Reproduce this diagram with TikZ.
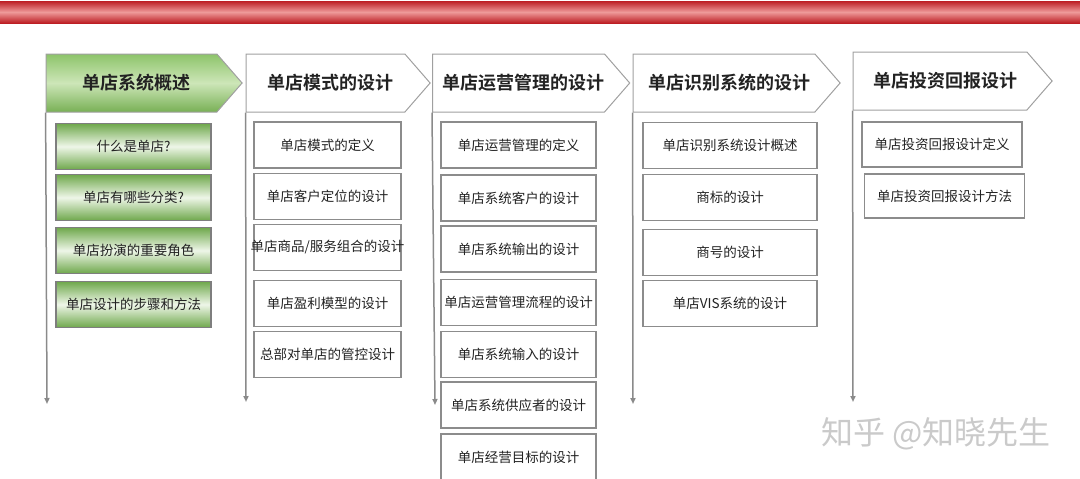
\documentclass[tikz,border=0pt]{standalone}
\usepackage{fontspec}
\setmainfont{Noto Sans CJK SC}[BoldFont={Noto Sans CJK SC Bold}]
\usetikzlibrary{shapes.symbols,arrows.meta}
\definecolor{bardark}{HTML}{BD1E24}
\definecolor{barlight}{HTML}{EE9A9A}
\definecolor{headline}{HTML}{A0A0A0}
\definecolor{boxline}{HTML}{8C8C8C}
\definecolor{linegray}{HTML}{8A8A8A}
\definecolor{textgray}{HTML}{222222}
\definecolor{greentop}{HTML}{8DC46A}
\definecolor{greenmid}{HTML}{CDE6B8}
\definecolor{greenbot}{HTML}{78B055}
\definecolor{subedge}{HTML}{6FA84C}
\definecolor{submid}{HTML}{EEF6E8}
\definecolor{wmgray}{HTML}{CACACA}

\begin{document}
\begin{tikzpicture}[x=1pt, y=1pt]
    \tikzstyle{head} = [signal, signal to=east, signal pointer angle=98, draw=headline, line width=1pt, minimum height=58pt, inner sep=0pt, text=textgray, font=\bfseries\fontsize{18}{20}\selectfont, execute at begin node=\hspace*{10pt}]
    \tikzstyle{sub} = [rectangle, draw=boxline, line width=1.3pt, minimum height=46pt, inner sep=0pt, text=textgray, font=\fontsize{13.5}{15}\selectfont]
    \tikzstyle{greensub} = [sub, top color=subedge, bottom color=subedge, middle color=submid, draw=boxline!90!black]
    \tikzstyle{flow} = [draw=linegray, line width=1.5pt, -{Triangle[length=6pt,width=5pt]}]

    \useasboundingbox (0,0) rectangle (1080,-479);
    \shade[top color=bardark, bottom color=bardark, middle color=barlight] (0,-1) rectangle (1080,-23);

    % headers
    \node [head, minimum width=196pt, top color=greentop, bottom color=greenbot, middle color=greenmid] (overview) at (131.5,-83) {单店系统概述};
    \node [head, minimum width=184pt] (mode) at (325.5,-83) {单店模式的设计};
    \node [head, minimum width=194pt] (operate) at (518.5,-83) {单店运营管理的设计};
    \node [head, minimum width=207pt] (identity) at (724,-83) {单店识别系统的设计};
    \node [head, minimum width=199pt] (invest) at (940,-81) {单店投资回报设计};

    % timelines
    \coordinate (end1) at (47,-404);
    \coordinate (end2) at (246,-402);
    \coordinate (end3) at (435,-405);
    \coordinate (end4) at (633,-404);
    \coordinate (end5) at (853,-402);
    \draw [flow] (overview.south west) -- (end1);
    \draw [flow] (mode.south west) -- (end2);
    \draw [flow] (operate.south west) -- (end3);
    \draw [flow] (identity.south west) -- (end4);
    \draw [flow] (invest.south west) -- (end5);

    % column 1
    \node [greensub, minimum width=155pt] (what) at (133.5,-146.5) {什么是单店?};
    \node [greensub, minimum width=155pt] (kinds) at (133.5,-197.5) {单店有哪些分类?};
    \node [greensub, minimum width=155pt] (role) at (133.5,-250.5) {单店扮演的重要角色};
    \node [greensub, minimum width=155pt] (steps) at (133.5,-304.5) {单店设计的步骤和方法};

    % column 2
    \node [sub, minimum width=147pt] (modedef) at (327.5,-145) {单店模式的定义};
    \node [sub, minimum width=147pt] (customer) at (327.5,-196.5) {单店客户定位的设计};
    \node [sub, minimum width=147pt, inner xsep=-5pt] (goods) at (327.5,-247.5) {单店商品/服务组合的设计};
    \node [sub, minimum width=147pt] (profit) at (327.5,-303.5) {单店盈利模型的设计};
    \node [sub, minimum width=147pt] (control) at (327.5,-354.5) {总部对单店的管控设计};

    % column 3
    \node [sub, minimum width=155pt] (opdef) at (518.5,-145) {单店运营管理的定义};
    \node [sub, minimum width=155pt] (syscust) at (518.5,-198) {单店系统客户的设计};
    \node [sub, minimum width=155pt] (output) at (518.5,-249) {单店系统输出的设计};
    \node [sub, minimum width=155pt] (process) at (518.5,-302.5) {单店运营管理流程的设计};
    \node [sub, minimum width=155pt] (input) at (518.5,-354.5) {单店系统输入的设计};
    \node [sub, minimum width=155pt] (supplier) at (518.5,-405) {单店系统供应者的设计};
    \node [sub, minimum width=155pt] (target) at (518.5,-457) {单店经营目标的设计};

    % column 4
    \node [sub, minimum width=174pt] (idsum) at (730,-145.5) {单店识别系统设计概述};
    \node [sub, minimum width=174pt] (brand) at (730,-197.5) {商标的设计};
    \node [sub, minimum width=174pt] (shopname) at (730,-252.5) {商号的设计};
    \node [sub, minimum width=174pt] (vis) at (730,-303.5) {单店VIS系统的设计};

    % column 5
    \node [sub, minimum width=160pt, minimum height=45pt] (roidef) at (942,-144.5) {单店投资回报设计定义};
    \node [sub, minimum width=160pt, minimum height=44pt] (roiway) at (944.5,-196) {单店投资回报设计方法};

    \node [text=wmgray, font=\fontsize{32}{34}\selectfont] (mark) at (936,-434) {知乎 @知晓先生};
\end{tikzpicture}
\end{document}
